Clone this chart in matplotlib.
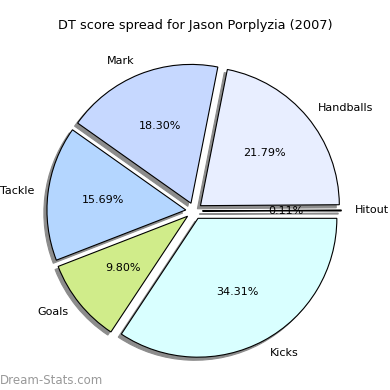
import matplotlib
matplotlib.use('Agg')
import matplotlib.pyplot as plt

labels = ['Hitout', 'Handballs', 'Mark', 'Tackle', 'Goals', 'Kicks']
values = [0.11, 21.79, 18.30, 15.69, 9.80, 34.31]
colors = ['#ffe0c0', '#e8eeff', '#c6d8ff', '#b4d6ff', '#d0ec8a', '#d9ffff']
explode = [0.06] * len(values)

fig = plt.figure(figsize=(3.9, 3.9), dpi=100)
ax = fig.add_axes([0.0526, 0.014, 0.89, 0.89])

# grey drop shadow, a bit tighter than the default one
shadow = {'ox': -0.016, 'oy': -0.016, 'facecolor': '#8c8c8c',
          'edgecolor': '#8c8c8c', 'alpha': 1}
wedges, texts, autotexts = ax.pie(values, labels=labels, colors=colors, explode=explode,
                                  autopct='%.2f%%', shadow=shadow, startangle=0,
                                  wedgeprops={'edgecolor': 'black', 'linewidth': 0.8},
                                  textprops={'fontsize': 8})
ax.set_aspect('equal')

fig.text(0.5, 1 - 25 / 390, 'DT score spread for Jason Porplyzia (2007)',
         ha='center', va='center', fontsize=9.3)
fig.text(0.0, 1 - 380 / 390, 'Dream-Stats.com', ha='left', va='center',
         fontsize=8.5, color='#999999')

fig.savefig('out.png', dpi=100)
